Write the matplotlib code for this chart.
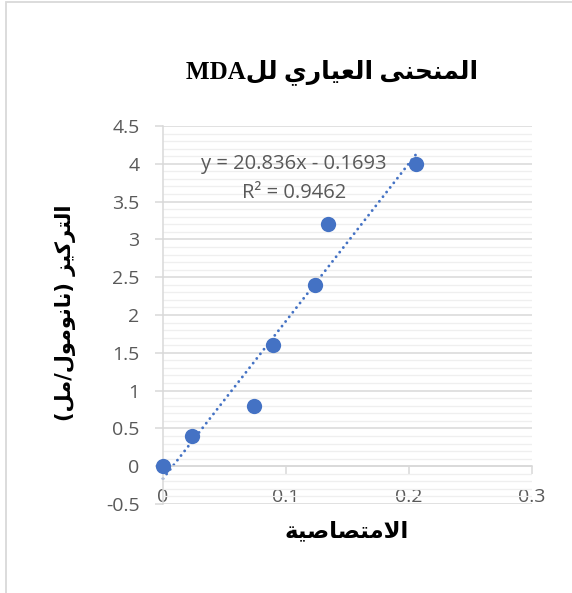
import numpy as np
import matplotlib
matplotlib.use("Agg")
import matplotlib.pyplot as plt
from matplotlib.patches import Rectangle
from matplotlib.ticker import MultipleLocator

# data
absorbance = [0.0, 0.0236, 0.0737, 0.0894, 0.1236, 0.1339, 0.2057]
concentration = [0.0, 0.4, 0.8, 1.6, 2.4, 3.2, 4.0]
eq_text = "y = 20.836x - 0.1693"
r2_text = "R² = 0.9462"
x_ticks = [0, 0.1, 0.2, 0.3]
x_ticklabels = ["0", "0.1", "0.2", "0.3"]
y_ticks = [-0.5, 0, 0.5, 1, 1.5, 2, 2.5, 3, 3.5, 4, 4.5]
y_ticklabels = ["-0.5", "0", "0.5", "1", "1.5", "2", "2.5", "3", "3.5", "4", "4.5"]

# Arabic texts (pre-shaped presentation forms in visual order)
title_text = "MDA" + "\uFEDE\uFEDF" + " " + "\uFEF1\uFEAD\uFE8E\uFEF4\uFECC\uFEDF\uFE8D" + " " + "\uFEF0\uFEE8\uFEA4\uFEE8\uFEE4\uFEDF\uFE8D"
xlabel_text = "\uFE94\uFEF4\uFEBB\uFE8E\uFEBC\uFE98\uFEE3\uFEFB\uFE8D"
ylabel_text = ("(" + "\uFEDE\uFEE3" + "/" + "\uFEDD\uFEEE\uFEE3\uFEEE\uFEE7\uFE8E\uFEE7" + ")" + " "
               + "\uFEB0\uFEF4\uFEDB\uFEAE\uFE98\uFEDF\uFE8D")

W, H = 572, 593
fig = plt.figure(figsize=(W / 100, H / 100), dpi=100)
fig.patch.set_facecolor("white")

ax = fig.add_axes([163 / W, 1 - 504 / H, (532 - 163) / W, (504 - 126) / H])
ax.set_xlim(0, 0.3)
ax.set_ylim(-0.5, 4.5)

blue = "#4472C4"
grid_major = "#d9d9d9"
grid_minor = "#efefef"
txt_gray = "#595959"
tick_font = ["Open Sans", "DejaVu Sans"]

# gridlines
ax.yaxis.set_minor_locator(MultipleLocator(0.1))
ax.grid(axis="y", which="minor", color=grid_minor, lw=0.9, zorder=0)
ax.grid(axis="y", which="major", color=grid_major, lw=1.1, zorder=0.5)
ax.set_axisbelow(True)

for s in ["top", "right"]:
    ax.spines[s].set_visible(False)
ax.spines["left"].set_color(grid_major)
ax.spines["left"].set_linewidth(1.1)
ax.spines["bottom"].set_position(("data", 0))
ax.spines["bottom"].set_color(grid_major)
ax.spines["bottom"].set_linewidth(1.1)

ax.set_xticks(x_ticks)
ax.set_xticklabels(x_ticklabels)
ax.set_yticks(y_ticks)
ax.set_yticklabels(y_ticklabels)
ax.tick_params(axis="x", which="major", direction="out", length=6, width=1.1,
               color=grid_major, pad=10, labelsize=14, labelcolor=txt_gray)
ax.tick_params(axis="y", which="major", direction="out", length=6, width=1.1,
               color=grid_major, pad=11, labelsize=14, labelcolor=txt_gray)
ax.tick_params(axis="y", which="minor", length=0)
for lab in ax.get_xticklabels() + ax.get_yticklabels():
    lab.set_family(tick_font)

# trendline
coef = np.polyfit(absorbance, concentration, 1)
xs = np.array([0.0, max(absorbance)])
ax.plot(xs, np.polyval(coef, xs), color=blue, lw=2.1, linestyle=(0, (0.01, 2.0)),
        dash_capstyle="round", zorder=2, clip_on=False)

# points
ax.plot(absorbance, concentration, "o", color=blue, markersize=11,
        markeredgewidth=0, zorder=3, clip_on=False)

# equation text
ax.text(0.106, 4.0, eq_text, ha="center", va="center", fontsize=14.5,
        color=txt_gray, family=tick_font, zorder=4)
ax.text(0.107, 3.62, r2_text, ha="center", va="center", fontsize=14.5,
        color=txt_gray, family=tick_font, zorder=4)

# title & labels
fig.text(332 / W, 1 - 72 / H, title_text, ha="center", va="center", fontsize=18,
         fontweight="bold", family=["Liberation Serif", "DejaVu Sans"])
fig.text(347 / W, 1 - 531 / H, xlabel_text, ha="center", va="center", fontsize=16.5,
         fontweight="bold", family=["DejaVu Sans"])
fig.text(66 / W, 1 - 313 / H, ylabel_text, ha="center", va="center", fontsize=15,
         fontweight="bold", rotation=90, family=["DejaVu Sans"])

# chart border (left & top visible)
fig.patches.append(Rectangle((5.5 / W, -0.1), 1.2, 1.1 - 2.5 / H, transform=fig.transFigure,
                             fill=False, edgecolor="#d9d9d9", lw=1.3))

fig.savefig("out.png", dpi=100, facecolor="white")
